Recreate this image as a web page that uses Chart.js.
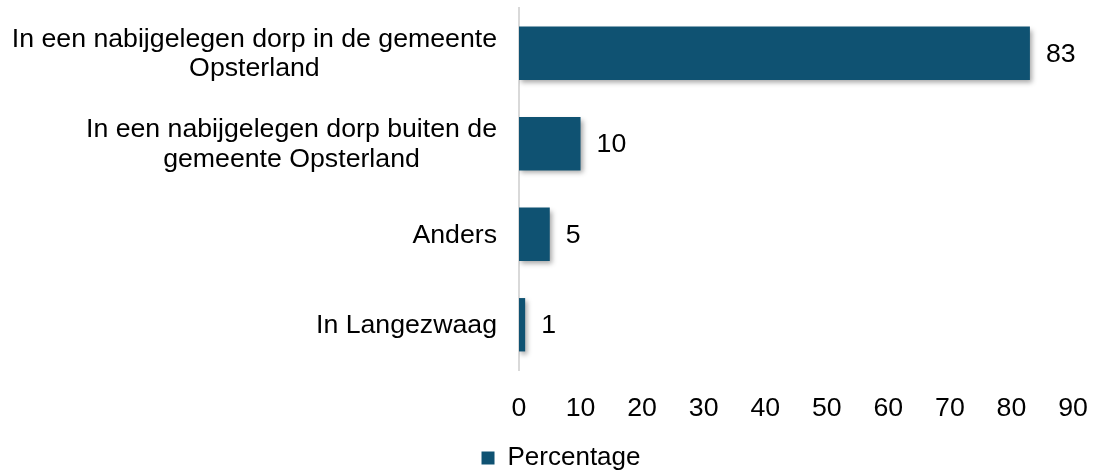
<!DOCTYPE html>
<html>
<head>
<meta charset="utf-8">
<script src="https://cdn.jsdelivr.net/npm/chart.js@4/dist/chart.umd.min.js"></script>
<style>
html,body{margin:0;padding:0;background:#fff;}
#wrap{width:1094px;height:470px;position:relative;}
</style>
</head>
<body>
<div id="wrap"><canvas id="c" width="1094" height="470"></canvas></div>
<script>
const categories = [
  ["In een nabijgelegen dorp in de gemeente", "Opsterland"],
  ["In een nabijgelegen dorp buiten de", "gemeente Opsterland"],
  ["Anders"],
  ["In Langezwaag"]
];
const percentages = [83, 10, 5, 1];
const seriesName = "Percentage";
const xTicks = [0, 10, 20, 30, 40, 50, 60, 70, 80, 90];

const FONT = "'Liberation Sans', Arial, Helvetica, sans-serif";
const BAR = "#0F5272";

const shadowPlugin = {
  id: 'shadow',
  beforeDatasetDraw(chart) {
    const ctx = chart.ctx;
    ctx.save();
    ctx.shadowColor = 'rgba(0,0,0,0.35)';
    ctx.shadowBlur = 5;
    ctx.shadowOffsetX = 2;
    ctx.shadowOffsetY = 3;
  },
  afterDatasetDraw(chart) { chart.ctx.restore(); }
};

const legendShift = {
  id: 'legendShift',
  afterLayout(chart) {
    const lg = chart.legend;
    if (lg) { lg.top += 11; lg.bottom += 11; lg.left += 8; lg.right += 8; }
  }
};

const labelsPlugin = {
  id: 'labels',
  afterDraw(chart) {
    const ctx = chart.ctx;
    const ys = chart.scales.y, xs = chart.scales.x;
    ctx.save();
    ctx.fillStyle = '#000';
    ctx.font = '26.7px ' + FONT;
    ctx.textBaseline = 'middle';
    const lh = 29.5;
    const right = chart.chartArea.left - 22;
    categories.forEach((lines, i) => {
      const cy = ys.getPixelForTick(i) + 1;
      const w = Math.max(...lines.map(l => ctx.measureText(l).width));
      const cx = right - w / 2;
      ctx.textAlign = 'center';
      lines.forEach((l, k) => {
        ctx.fillText(l, cx, cy + (k - (lines.length - 1) / 2) * lh);
      });
    });
    const meta = chart.getDatasetMeta(0);
    ctx.textAlign = 'left';
    meta.data.forEach((bar, i) => {
      ctx.fillText(String(percentages[i]), xs.getPixelForValue(percentages[i]) + 16, bar.y + 1);
    });
    ctx.restore();
  }
};

new Chart(document.getElementById('c'), {
  type: 'bar',
  data: {
    labels: categories,
    datasets: [{
      label: seriesName,
      data: percentages,
      backgroundColor: BAR,
      borderWidth: 0,
      categoryPercentage: 1,
      barPercentage: 0.59
    }]
  },
  options: {
    indexAxis: 'y',
    responsive: false,
    animation: false,
    events: [],
    layout: { padding: { top: 8, right: 21, bottom: 0, left: 33 } },
    scales: {
      x: {
        min: 0, max: 90,
        afterBuildTicks(s) { s.ticks = xTicks.map(v => ({ value: v })); },
        grid: { display: false, drawTicks: false },
        border: { display: false },
        ticks: { color: '#000', font: { family: FONT, size: 26.7 }, padding: 23, maxRotation: 0 },
        afterFit(s) { s.height = 64; s.paddingRight = 0; s.paddingLeft = 0; }
      },
      y: {
        grid: { display: false, drawTicks: false },
        border: { display: true, color: '#d9d9d9', width: 2 },
        ticks: { display: false },
        afterFit(s) { s.width = 486; }
      }
    },
    plugins: {
      legend: {
        position: 'bottom',
        labels: {
          color: '#000',
          font: { family: FONT, size: 26 },
          boxWidth: 13, boxHeight: 13,
          padding: 0
        }
      },
      tooltip: { enabled: false }
    }
  },
  plugins: [shadowPlugin, legendShift, labelsPlugin]
});
</script>
</body>
</html>
